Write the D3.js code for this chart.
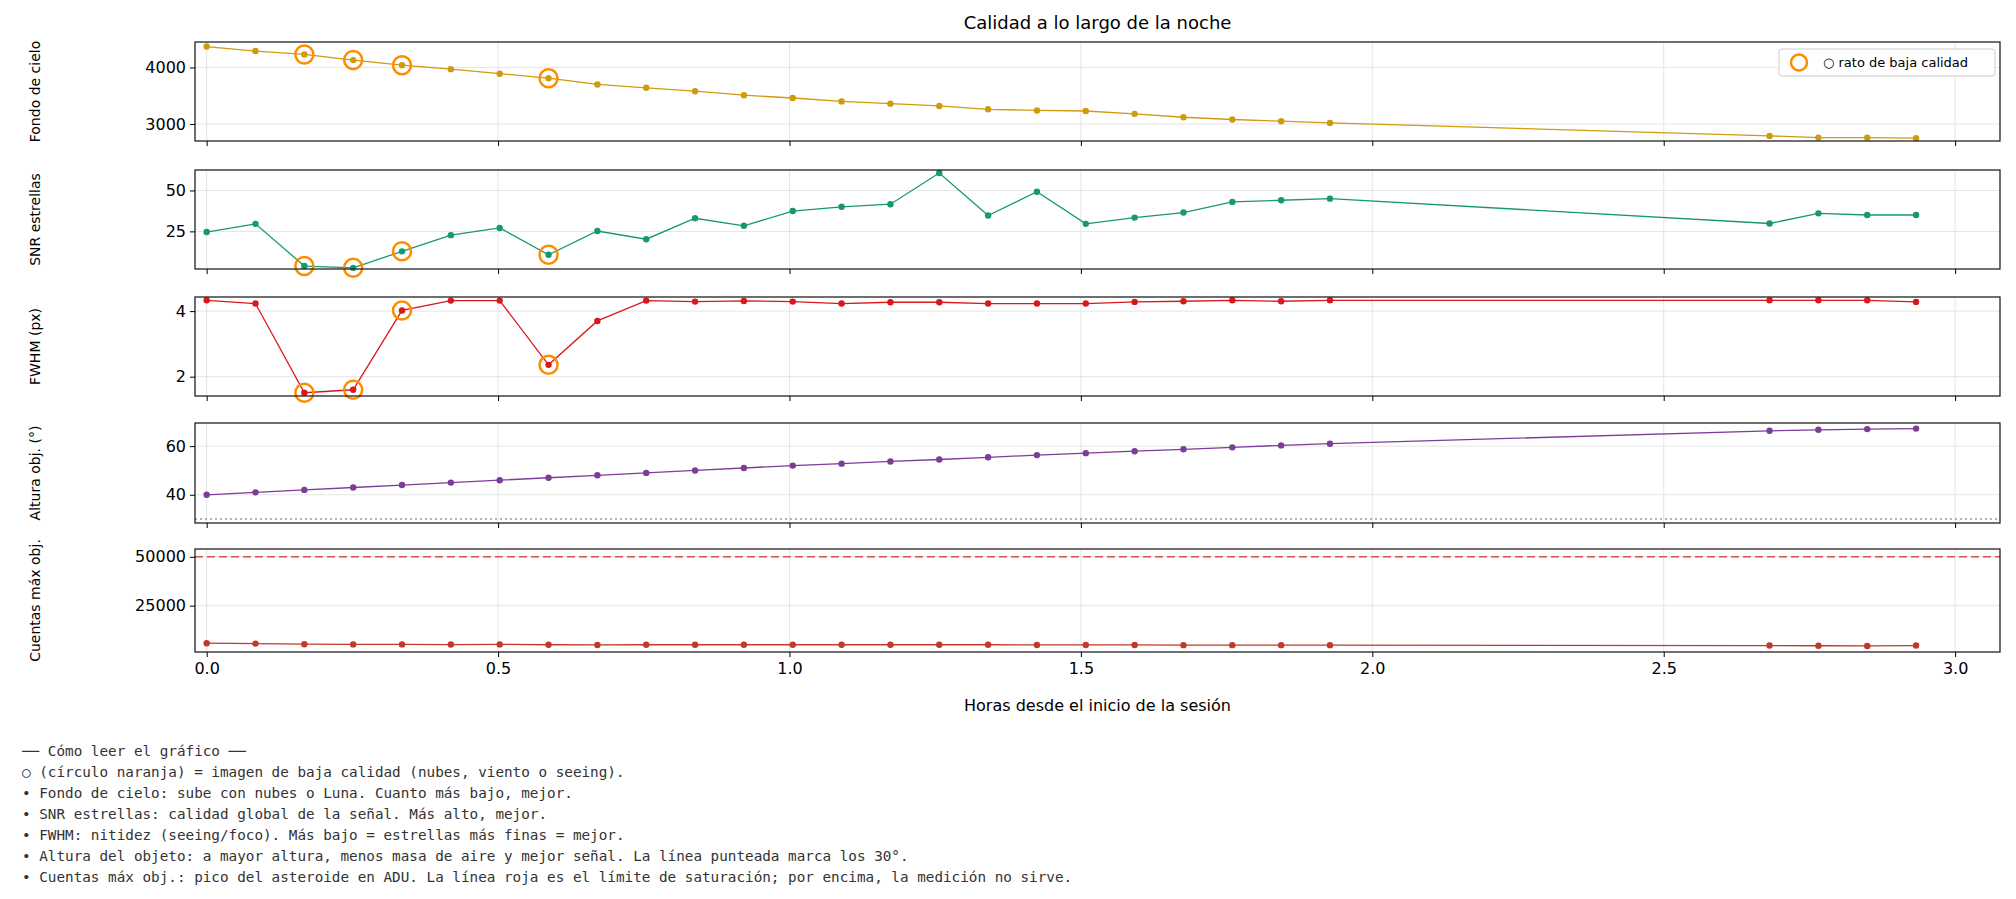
<!DOCTYPE html>
<html><head><meta charset="utf-8">
<script src="https://cdn.jsdelivr.net/npm/d3@7"></script>
<style>body{margin:0;background:#fff}</style></head>
<body><svg id="c" width="2016" height="899"></svg>
<script>
const hours = [0,0.0838,0.1676,0.2514,0.3352,0.419,0.5028,0.5866,0.6704,0.7542,0.838,0.9218,1.0056,1.0894,1.1732,1.257,1.3408,1.4246,1.5084,1.5922,1.676,1.7598,1.8436,1.9274,2.6816,2.7654,2.8492,2.933];
const skyBg = [4370,4290,4230,4130,4040,3970,3890,3810,3700,3640,3580,3510,3460,3400,3360,3320,3260,3240,3230,3180,3120,3080,3050,3020,2790,2760,2760,2750];
const snr = [24.6,29.6,3.8,2.7,12.8,22.7,27.1,10.7,25.2,20.2,33,28.4,37.4,40,41.6,60.7,34.7,49.2,29.6,33.4,36.5,43,44,45,29.8,36,35,35];
const fwhm = [4.33,4.23,1.51,1.6,4.02,4.32,4.32,2.36,3.7,4.32,4.29,4.31,4.29,4.23,4.27,4.27,4.23,4.23,4.23,4.28,4.3,4.33,4.3,4.33,4.33,4.33,4.33,4.28];
const altitude = [40,41,42,43,44,45,46,47,48,49,50,51,52,52.8,53.7,54.5,55.4,56.3,57.1,57.9,58.7,59.5,60.3,61,66.3,66.7,67,67.2];
const counts = [5800,5600,5300,5200,5200,5100,5200,5000,4900,5000,5000,5000,5000,5000,5000,5000,5000,4900,4900,4900,4800,4800,4800,4800,4600,4500,4400,4600];
const lowQuality = [2,3,4,7];
const xTicks = [0,0.5,1,1.5,2,2.5,3];
const notes = ["── Cómo leer el gráfico ──","○ (círculo naranja) = imagen de baja calidad (nubes, viento o seeing).","• Fondo de cielo: sube con nubes o Luna. Cuanto más bajo, mejor.","• SNR estrellas: calidad global de la señal. Más alto, mejor.","• FWHM: nitidez (seeing/foco). Más bajo = estrellas más finas = mejor.","• Altura del objeto: a mayor altura, menos masa de aire y mejor señal. La línea punteada marca los 30°.","• Cuentas máx obj.: pico del asteroide en ADU. La línea roja es el límite de saturación; por encima, la medición no sirve."];

const panels = [
 {data:skyBg,label:"Fondo de cielo",color:"#d09a0e",dom:[2700,4450],ticks:[3000,4000],top:42,bot:141,marks:true,legend:true},
 {data:snr,label:"SNR estrellas",color:"#17996d",dom:[2,62.5],ticks:[25,50],top:170,bot:269,marks:true},
 {data:fwhm,label:"FWHM (px)",color:"#d7191c",dom:[1.41,4.43],ticks:[2,4],top:297,bot:396,marks:true},
 {data:altitude,label:"Altura obj. (°)",color:"#7d3c98",dom:[28.4,69.5],ticks:[40,60],top:423,bot:523,hline:{v:30,c:"#999",d:"2,3"}},
 {data:counts,label:"Cuentas máx obj.",color:"#c0392b",dom:[1300,54000],ticks:[25000,50000],top:549,bot:652,hline:{v:50000,c:"#d9534f",d:"8,4"}}
];
const svg = d3.select("#c");
const L=195,R=2000;
const x = d3.scaleLinear().domain([-0.02,3.077]).range([L,R]);
svg.append("text").attr("x",(L+R)/2).attr("y",29).attr("text-anchor","middle").attr("font-family","DejaVu Sans").attr("font-size",18).text("Calidad a lo largo de la noche");
panels.forEach((p,pi)=>{
  const y=d3.scaleLinear().domain(p.dom).range([p.bot,p.top]);
  const g=svg.append("g");
  xTicks.forEach(t=>g.append("line").attr("x1",x(t)).attr("x2",x(t)).attr("y1",p.top).attr("y2",p.bot).attr("stroke","#e5e5e5"));
  p.ticks.forEach(t=>g.append("line").attr("x1",L).attr("x2",R).attr("y1",y(t)).attr("y2",y(t)).attr("stroke","#e5e5e5"));
  if(p.hline) g.append("line").attr("x1",L).attr("x2",R).attr("y1",y(p.hline.v)).attr("y2",y(p.hline.v)).attr("stroke",p.hline.c).attr("stroke-width",1.5).attr("stroke-dasharray",p.hline.d);
  const line=d3.line().x((d,i)=>x(hours[i])).y(d=>y(d));
  g.append("path").attr("d",line(p.data)).attr("fill","none").attr("stroke",p.color).attr("stroke-width",1.3);
  g.selectAll(".dot").data(p.data).join("circle").attr("cx",(d,i)=>x(hours[i])).attr("cy",d=>y(d)).attr("r",3.2).attr("fill",p.color);
  if(p.marks) lowQuality.forEach(i=>g.append("circle").attr("cx",x(hours[i])).attr("cy",y(p.data[i])).attr("r",9).attr("fill","none").attr("stroke","#ff8c00").attr("stroke-width",2.5));
  g.append("rect").attr("x",L).attr("y",p.top).attr("width",R-L).attr("height",p.bot-p.top).attr("fill","none").attr("stroke","#222").attr("stroke-width",1.3);
  const ya=d3.axisLeft(y).tickValues(p.ticks).tickSize(5).tickPadding(4).tickFormat(d3.format("d"));
  const ag=svg.append("g").attr("transform",`translate(${L},0)`).call(ya);
  ag.select(".domain").remove();
  ag.selectAll("text").attr("font-family","DejaVu Sans").attr("font-size",16).attr("fill","#000");
  const xa=d3.axisBottom(x).tickValues(xTicks).tickSize(5).tickFormat(pi===4?d3.format(".1f"):"");
  const xg=svg.append("g").attr("transform",`translate(0,${p.bot})`).call(xa);
  xg.select(".domain").remove();
  xg.selectAll("text").attr("font-family","DejaVu Sans").attr("font-size",16).attr("fill","#000").attr("dy","0.9em");
  svg.append("text").attr("transform",`translate(40,${(p.top+p.bot)/2}) rotate(-90)`).attr("text-anchor","middle").attr("font-family","DejaVu Sans").attr("font-size",14).text(p.label);
  if(p.legend){
    svg.append("rect").attr("x",1779).attr("y",49).attr("width",216).attr("height",27).attr("rx",3).attr("fill","#fff").attr("stroke","#ccc");
    svg.append("circle").attr("cx",1799).attr("cy",62.5).attr("r",8).attr("fill","none").attr("stroke","#ff8c00").attr("stroke-width",2.5);
    svg.append("text").attr("x",1823).attr("y",67).attr("font-family","DejaVu Sans").attr("font-size",13).text("○ rato de baja calidad");
  }
});
svg.append("text").attr("x",(L+R)/2).attr("y",711).attr("text-anchor","middle").attr("font-family","DejaVu Sans").attr("font-size",16).text("Horas desde el inicio de la sesión");
notes.forEach((t,i)=>svg.append("text").attr("x",22).attr("y",756+i*21).attr("font-family","DejaVu Sans Mono").attr("font-size",14.3).attr("fill","#333").text(t));
</script></body></html>
